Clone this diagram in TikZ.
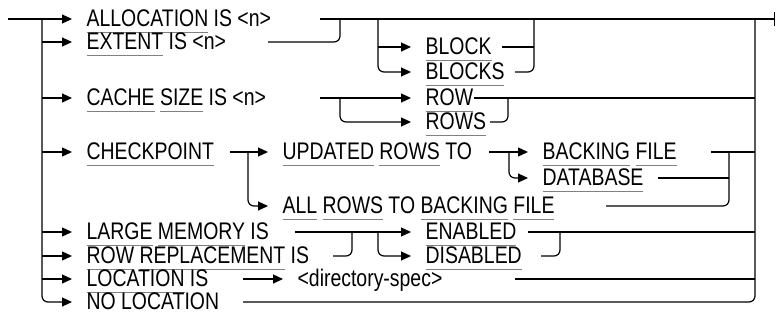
\documentclass[tikz,border=0pt]{standalone}
\usepackage{fontspec}
\setmainfont{Liberation Sans}[FakeStretch=0.81]
\usetikzlibrary{arrows.meta,positioning}
\definecolor{ulgray}{RGB}{128,128,128}
\newcommand\kw[1]{\setbox0\hbox{#1}\rlap{\textcolor{ulgray}{\rule[-7pt]{\wd0}{1.4pt}}}\box0\relax}

\begin{document}
\begin{tikzpicture}[x=1pt,y=-1pt,line width=1.2pt,rounded corners=6pt,
    word/.style={anchor=west,inner sep=0pt,text height=17pt,text depth=3pt,font=\fontsize{24pt}{26pt}\selectfont},
    feed/.style={-{Triangle[length=10pt,width=9pt]},shorten >=14pt}]
  \useasboundingbox (0,0) rectangle (776,324);

  % left column
  \node[word] (alloc)  at (86,19)  {\kw{ALLOCATION} IS <n>};
  \node[word] (extent) at (86,42)  {\kw{EXTENT} IS <n>};
  \node[word] (cache)  at (86,98)  {\kw{CACHE} \kw{SIZE} IS <n>};
  \node[word] (chkpt)  at (86,152) {\kw{CHECKPOINT}};
  \node[word] (large)  at (86,232) {\kw{LARGE} \kw{MEMORY} IS};
  \node[word] (rowrep) at (86,256) {\kw{ROW} \kw{REPLACEMENT} IS};
  \node[word] (loc)    at (86,279) {\kw{LOCATION} IS};
  \node[word] (noloc)  at (86,302) {NO LOCATION};

  % options
  \node[word] (block)    at (425,47)  {\kw{BLOCK}};
  \node[word] (blocks)   at (425,72)  {\kw{BLOCKS}};
  \node[word] (row)      at (425,98)  {\kw{ROW}};
  \node[word] (rows)     at (425,122) {\kw{ROWS}};
  \node[word] (updated)  at (282,152) {\kw{UPDATED} \kw{ROWS} TO};
  \node[word] (allrows)  at (282,206) {\kw{ALL} \kw{ROWS} TO \kw{BACKING} \kw{FILE}};
  \node[word] (backing)  at (542,152) {\kw{BACKING} \kw{FILE}};
  \node[word] (database) at (542,178) {\kw{DATABASE}};
  \node[word] (enabled)  at (425,232) {\kw{ENABLED}};
  \node[word] (disabled) at (425,256) {\kw{DISABLED}};
  \node[word] (dirspec)  at (297,279) {<directory-spec>};

  \coordinate (in) at (8,19);
  \coordinate (trunk) at (42,19);
  \coordinate (exit) at (755,19);
  \coordinate (out) at (775,19);

  % trunk
  \draw (in) -- (trunk);
  \draw[feed] (trunk) -- (alloc);
  \foreach \n in {extent,cache,chkpt,large,rowrep,loc}
    \draw[feed] (trunk |- \n) -- (\n);
  \draw[feed] (trunk) |- (noloc);

  % main line
  \coordinate (a_out) at (320,19);
  \draw[-{Bar[width=14pt]}] (a_out) -- (out);

  % extent / block(s)
  \coordinate (e_out) at (268,42);
  \coordinate (e_join) at (340,19);
  \draw (e_out) -| (e_join);
  \coordinate (b_split) at (378,19);
  \draw[feed] (b_split |- block) -- (block);
  \draw[feed] (b_split) |- (blocks);
  \coordinate (b_join) at (534,19);
  \coordinate (bk_out) at (502,47);
  \coordinate (bs_out) at (515,72);
  \draw (bk_out) -- (b_join |- bk_out);
  \draw (bs_out) -| (b_join);

  % cache size
  \coordinate (c_out) at (320,98);
  \draw[feed] (c_out) -- (row);
  \coordinate (r_split) at (340,98);
  \draw[feed] (r_split) |- (rows);
  \coordinate (rw_out) at (474,98);
  \draw (rw_out) -- (exit |- rw_out);
  \coordinate (rs_out) at (490,122);
  \coordinate (r_join) at (508,98);
  \draw (rs_out) -| (r_join);

  % checkpoint
  \coordinate (k_out) at (230,152);
  \draw[feed] (k_out) -- (updated);
  \coordinate (k_split) at (248,152);
  \draw[feed] (k_split) |- (allrows);
  \coordinate (u_out) at (489,152);
  \draw[feed] (u_out) -- (backing);
  \coordinate (u_split) at (509,152);
  \draw[feed] (u_split) |- (database);
  \coordinate (bf_out) at (711,152);
  \draw (bf_out) -- (exit |- bf_out);
  \coordinate (f_join) at (729,152);
  \coordinate (db_out) at (658,178);
  \draw (db_out) -- (f_join |- db_out);
  \coordinate (ar_out) at (606,206);
  \draw (ar_out) -| (f_join);

  % large memory / row replacement
  \coordinate (l_out) at (295,232);
  \draw[feed] (l_out) -- (enabled);
  \coordinate (rr_out) at (333,256);
  \coordinate (rr_join) at (352,232);
  \draw (rr_out) -| (rr_join);
  \coordinate (en_split) at (378,232);
  \draw[feed] (en_split) |- (disabled);
  \coordinate (en_out) at (528,232);
  \draw (en_out) -- (exit |- en_out);
  \coordinate (ds_out) at (541,256);
  \coordinate (ds_join) at (560,232);
  \draw (ds_out) -| (ds_join);

  % location
  \coordinate (lo_out) at (243,279);
  \draw[feed] (lo_out) -- (dirspec);
  \coordinate (dir_out) at (515,279);
  \draw (dir_out) -- (exit |- dir_out);
  \coordinate (nl_out) at (243,302);
  \draw (nl_out) -| (exit);
\end{tikzpicture}
\end{document}
